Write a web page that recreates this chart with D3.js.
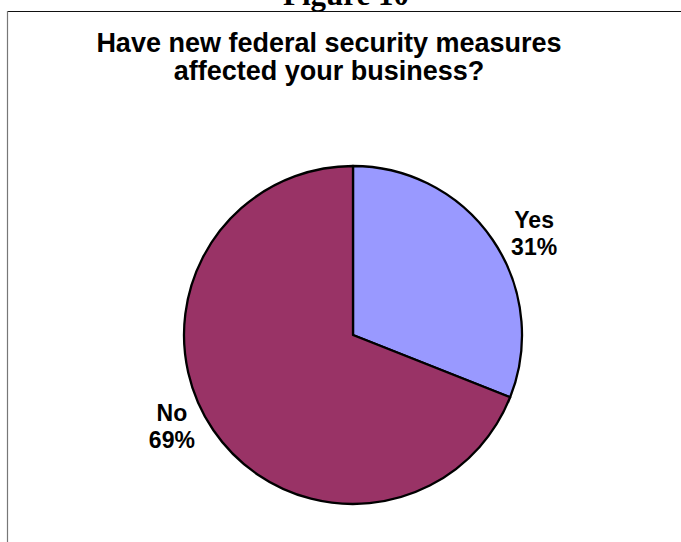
<!DOCTYPE html>
<html>
<head>
<meta charset="utf-8">
<script src="https://cdn.jsdelivr.net/npm/d3@7"></script>
<style>
  html, body { margin: 0; padding: 0; background: #fff; }
  svg { display: block; }
</style>
</head>
<body>
<svg id="chart" width="681" height="542"></svg>
<script>
// Survey answers and their shares (percent)
const categories = ["Yes", "No"];
const shares = [31, 69];
const sliceColors = ["#9999FF", "#993366"];

const figureLabel = "Figure 10";
const titleLines = ["Have new federal security measures", "affected your business?"];

const width = 681, height = 542;
const cx = 353, cy = 335, radius = 169;

const svg = d3.select("#chart");

// Figure caption, partly above the page edge
svg.append("text")
  .attr("x", 346).attr("y", 5)
  .attr("text-anchor", "middle")
  .style("font-family", "'Liberation Serif', 'Times New Roman', serif")
  .style("font-weight", "bold")
  .style("font-size", "31px")
  .text(figureLabel);

// Chart frame: top and left edges
svg.append("line")
  .attr("x1", 7).attr("x2", width).attr("y1", 11.5).attr("y2", 11.5)
  .attr("stroke", "#111").attr("stroke-width", 1.2);
svg.append("line")
  .attr("x1", 7.5).attr("x2", 7.5).attr("y1", 11).attr("y2", height)
  .attr("stroke", "#777").attr("stroke-width", 1.2);

// Title
const title = svg.append("text")
  .attr("text-anchor", "middle")
  .style("font-family", "'Liberation Sans', Arial, sans-serif")
  .style("font-weight", "bold")
  .style("font-size", "27px");
titleLines.forEach((line, i) => {
  title.append("tspan").attr("x", 329).attr("y", 52 + i * 28).text(line);
});

// Pie
const data = categories.map((c, i) => ({ category: c, value: shares[i], color: sliceColors[i] }));
const pie = d3.pie().value(d => d.value).sort(null).startAngle(0).endAngle(2 * Math.PI);
const arcs = pie(data);
const arc = d3.arc().innerRadius(0).outerRadius(radius);

const g = svg.append("g").attr("transform", `translate(${cx},${cy})`);
g.selectAll("path.slice")
  .data(arcs)
  .join("path")
  .attr("class", "slice")
  .attr("d", arc)
  .attr("fill", d => d.data.color)
  .attr("stroke", "#000")
  .attr("stroke-width", 2.3)
  .attr("stroke-linejoin", "round");

// Outside labels: category name over percentage
const labelArc = d3.arc().innerRadius(219).outerRadius(219);
const labelShift = [22, -32];
const lineGap = 27;
arcs.forEach((d, i) => {
  const [lx, ly] = labelArc.centroid(d);
  const blockMid = ly + labelShift[i];
  const t = g.append("text")
    .attr("text-anchor", "middle")
    .style("font-family", "'Liberation Sans', Arial, sans-serif")
    .style("font-weight", "bold")
    .style("font-size", "23px");
  t.append("tspan").attr("x", lx).attr("y", blockMid - lineGap / 2 + 8).text(d.data.category);
  t.append("tspan").attr("x", lx).attr("y", blockMid + lineGap / 2 + 8).text(d.data.value + "%");
});
</script>
</body>
</html>
